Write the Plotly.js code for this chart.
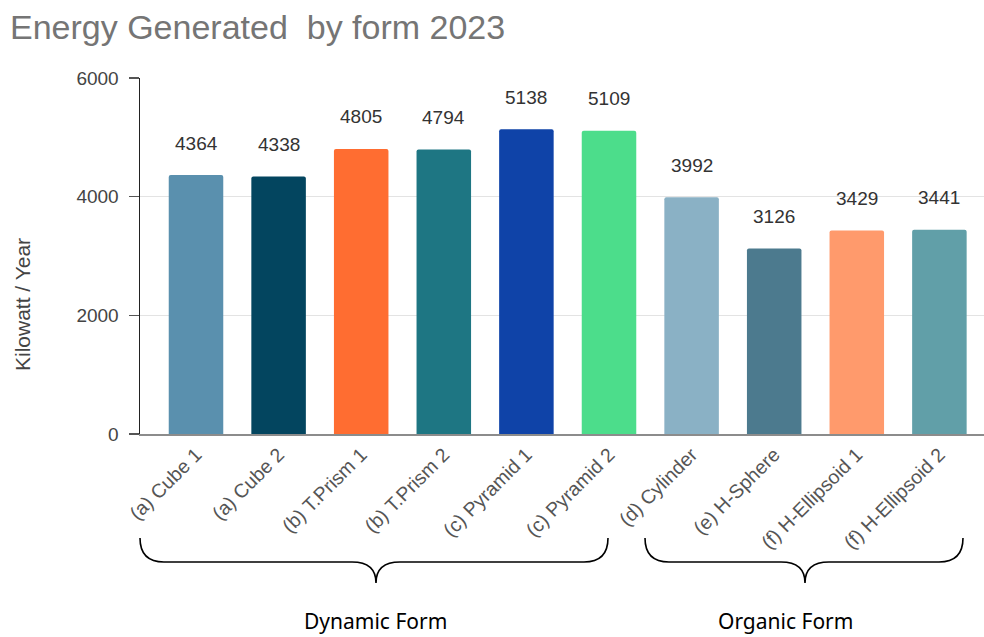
<!DOCTYPE html>
<html>
<head>
<meta charset="utf-8">
<script src="https://cdn.plot.ly/plotly-3.0.1.min.js"></script>
<style>html,body{margin:0;padding:0;background:#fff;}#chart{width:984px;height:637px;}</style>
</head>
<body>
<div id="chart"></div>
<script>
// ---- data ----
const categories = ["(a) Cube 1", "(a) Cube 2", "(b) T.Prism 1", "(b) T.Prism 2", "(c) Pyramid 1",
  "(c) Pyramid 2", "(d) Cylinder", "(e) H-Sphere", "(f) H-Ellipsoid 1", "(f) H-Ellipsoid 2"];
const energy = [4364, 4338, 4805, 4794, 5138, 5109, 3992, 3126, 3429, 3441];
const barColors = ["#5a90ae", "#03455f", "#ff6d31", "#1e7683", "#0f43a8",
  "#4cdd8b", "#8ab1c5", "#4c7a8e", "#ff9a6c", "#619fa8"];
const yTicks = [0, 2000, 4000, 6000];
const groupLabels = ["Dynamic Form", "Organic Form"];

// ---- layout helpers (pixel -> paper) ----
const W = 984, H = 637;
const mL = 140, mR = 0, mT = 78, mB = 203;
const pw = W - mL - mR, ph = H - mT - mB;
const px = x => (x - mL) / pw;
const py = y => (H - mB - y) / ph;

function brace(x0, x1, xm, yTop, yMid, yTip) {
  const r = 24;
  return "M " + px(x0) + "," + py(yTop) +
    " Q " + px(x0) + "," + py(yMid) + " " + px(x0 + r) + "," + py(yMid) +
    " L " + px(xm - r) + "," + py(yMid) +
    " Q " + px(xm) + "," + py(yMid) + " " + px(xm) + "," + py(yTip) +
    " Q " + px(xm) + "," + py(yMid) + " " + px(xm + r) + "," + py(yMid) +
    " L " + px(x1 - r) + "," + py(yMid) +
    " Q " + px(x1) + "," + py(yMid) + " " + px(x1) + "," + py(yTop);
}

const trace = {
  type: "bar",
  x: categories,
  y: energy,
  marker: { color: barColors, cornerradius: 2 },
  hoverinfo: "x+y"
};

const valueAnnotations = categories.map((c, i) => ({
  x: c, y: energy[i], xref: "x", yref: "y",
  text: String(energy[i]), showarrow: false,
  yanchor: "middle", yshift: 32,
  font: { family: "Liberation Sans, Arial, sans-serif", size: 19, color: "#333" }
}));

const layout = {
  width: W, height: H,
  margin: { l: mL, r: mR, t: mT, b: mB },
  paper_bgcolor: "#fff", plot_bgcolor: "#fff",
  showlegend: false,
  bargap: 0.34,
  title: {
    text: "Energy Generated  by form 2023",
    x: 10 / W, xanchor: "left", xref: "container",
    y: 1 - 27 / H, yanchor: "middle", yref: "container",
    font: { family: "Liberation Sans, Arial, sans-serif", size: 34, color: "#757575" }
  },
  xaxis: {
    type: "category",
    range: [-0.678, 9.54],
    tickangle: -45,
    ticks: "",
    showgrid: false,
    showline: true, linecolor: "#8c8c8c", linewidth: 1.5,
    tickfont: { family: "Liberation Sans, Arial, sans-serif", size: 19.5, color: "#555" },
    fixedrange: true
  },
  yaxis: {
    range: [0, 6000],
    tickvals: yTicks,
    ticktext: yTicks.map(String),
    showgrid: true, gridcolor: "#e3e3e3", gridwidth: 1,
    zeroline: false,
    showline: true, linecolor: "#222", linewidth: 1.5,
    ticks: "outside", ticklen: 10, tickcolor: "#555", tickwidth: 1.5,
    ticklabelstandoff: 6,
    tickfont: { family: "Liberation Sans, Arial, sans-serif", size: 19, color: "#444" },
    fixedrange: true
  },
  annotations: valueAnnotations.concat([
    {
      xref: "paper", yref: "paper", x: px(22), y: py(305),
      text: "Kilowatt / Year", textangle: -90, showarrow: false,
      xanchor: "center", yanchor: "middle",
      font: { family: "Liberation Sans, Arial, sans-serif", size: 21, color: "#444" }
    },
    {
      xref: "paper", yref: "paper", x: px(375), y: py(621),
      text: groupLabels[0], showarrow: false, xanchor: "center", yanchor: "middle",
      font: { family: "Noto Sans, sans-serif", size: 21, color: "#000" }
    },
    {
      xref: "paper", yref: "paper", x: px(785), y: py(621),
      text: groupLabels[1], showarrow: false, xanchor: "center", yanchor: "middle",
      font: { family: "Noto Sans, sans-serif", size: 21, color: "#000" }
    }
  ]),
  shapes: [
    { type: "path", xref: "paper", yref: "paper", path: brace(140, 608, 376, 538, 562, 583),
      line: { color: "#000", width: 1.6 } },
    { type: "path", xref: "paper", yref: "paper", path: brace(645, 963, 805, 538, 562, 583),
      line: { color: "#000", width: 1.6 } }
  ]
};

Plotly.newPlot("chart", [trace], layout, { displayModeBar: false, staticPlot: true });
</script>
</body>
</html>
